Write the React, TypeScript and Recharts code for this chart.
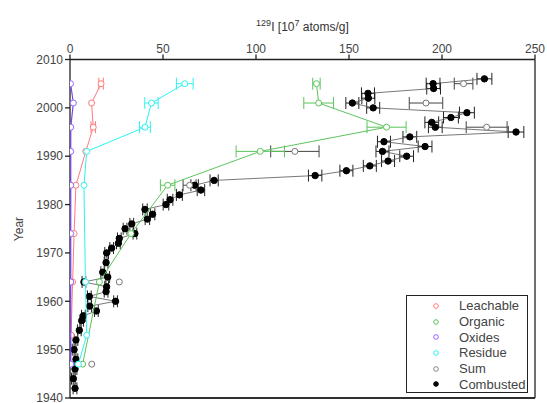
import {
  ScatterChart,
  Scatter,
  XAxis,
  YAxis,
  ErrorBar,
  Legend,
  ReferenceLine,
} from "recharts";

// 129I fractions in layered samples (x = 10^7 atoms/g, y = year)
const leachableYears = [2005, 2001, 1996, 1991, 1984, 1974, 1964, 1953];
const leachableValues = [16.7, 11.6, 12.5, 8.5, 3.2, 2.2, 1.4, 0.6];
const leachableErrors = [1.2, null, 1.2, null, null, null, null, null];

const organicYears = [2005, 2001, 1996, 1991, 1984, 1974, 1964, 1947];
const organicValues = [132.5, 133.7, 170.2, 102.3, 52.5, 32.8, 15.8, 6.8];
const organicErrors = [2, 8, 10.5, 13, 3.9, null, null, null];

const oxidesYears = [2005, 2001, 1996, 1991, 1984, 1974, 1964, 1947];
const oxidesValues = [0.3, 1.8, 0.4, 0.4, 0.4, 0.4, 0.4, 0.4];

const residueYears = [2005, 2001, 1996, 1991, 1984, 1964, 1953, 1947];
const residueValues = [61.7, 43.8, 40.3, 9, 7.5, 8.3, 9, 4.5];
const residueErrors = [4.5, 3.6, 2.9, null, null, null, null, null];

const sumYears = [2005, 2001, 1996, 1991, 1984, 1964, 1947];
const sumValues = [211.6, 191.4, 224, 120.9, 64.3, 26.5, 11.7];
const sumErrors = [5, 9, 11, 13, 3.5, null, null];

const combustedYears = [
  2006, 2005, 2004, 2003, 2002, 2001, 2000, 1999, 1998, 1997, 1996, 1995,
  1994, 1993, 1992, 1991, 1990, 1989, 1988, 1987, 1986, 1985, 1984, 1983,
  1982, 1981, 1980, 1979, 1978, 1977, 1976, 1975, 1974, 1973, 1972, 1971,
  1970, 1968, 1966, 1965, 1964, 1963, 1962, 1961, 1960, 1959, 1958, 1957,
  1956, 1954, 1952, 1950, 1948, 1946, 1944, 1942,
];
const combustedValues = [
  222.8, 195.2, 195.5, 160.2, 160.4, 151.8, 163, 213.4, 204.8, 194.5, 196.4, 239.8,
  182.7, 168.8, 190.9, 168, 181, 171, 161.2, 148.6, 131.8, 77.5, 67, 70.4,
  58.8, 53.8, 51.6, 40.3, 44.4, 41.6, 33.2, 29.6, 34.9, 26.5, 26, 22.4,
  19.7, 19.4, 17.6, 20.3, 7.5, 19.7, 19.4, 10.4, 24.5, 10.6, 14.2, 7.2,
  6.3, 5, 3.2, 2.2, 3.2, 2.7, 1.8, 2.7,
];
const combustedErrors = [
  4, 3.7, 3.7, 3.5, 3.5, 3.5, 3.5, 4, 4, 3.7, 3.7, 4.2,
  3.7, 3.5, 3.7, 3.5, 3.7, 3.5, 3.5, 3.5, 3.6, 2.2, 2, 2,
  1.6, 1.5, 1.5, 1.2, 1.2, 1.2, 1, 1, 1, 1, 1, 1,
  1, 1, 1, 1, 1, 1, 1, 1, 1, 1, 1, 1,
  1, 1, 1, 1, 1, 1, 1, 1,
];

const xTicks = [0, 50, 100, 150, 200, 250];
const yTicks = [1940, 1950, 1960, 1970, 1980, 1990, 2000, 2010];

const legendNames = ["Leachable", "Organic", "Oxides", "Residue", "Sum", "Combusted"];
const legendColors = ["#ff7b7b", "#5cc45c", "#9966ff", "#2ef2f2", "#888888", "#000000"];

const FONT = "'Liberation Sans', Arial, sans-serif";

function pts(years: number[], values: number[], errs?: (number | null)[]) {
  return years.map((y, i) => ({ x: values[i], y, err: errs ? errs[i] : null }));
}

const openDot = (color: string) => (props: any) => (
  <circle cx={props.cx} cy={props.cy} r={3} fill="#fff" stroke={color} strokeWidth={1} />
);

const filledDot = (props: any) => (
  <circle cx={props.cx} cy={props.cy} r={3.2} fill="#000" stroke="#000" />
);

function LegendBox() {
  return (
    <div
      style={{
        width: 122,
        height: 98,
        border: "1.5px solid #222",
        background: "#fff",
        fontFamily: FONT,
        fontSize: 13,
        color: "#444",
        boxSizing: "border-box",
        paddingTop: 2,
      }}
    >
      {legendNames.map((name, i) => (
        <div key={name} style={{ display: "flex", alignItems: "center", height: 15.7 }}>
          <svg width={50} height={10} style={{ flex: "none" }}>
            <circle
              cx={29}
              cy={5}
              r={2.3}
              fill={i === 5 ? "#000" : "#fff"}
              stroke={legendColors[i]}
              strokeWidth={1}
            />
          </svg>
          <span style={{ marginLeft: 2 }}>{name}</span>
        </div>
      ))}
    </div>
  );
}

export default function App() {
  const axisStroke = "#222";
  const tickStyle = { fontSize: 12, fill: "#444", fontFamily: FONT };
  return (
    <div style={{ position: "absolute", left: 0, top: 0, width: 547, height: 403, background: "#fff" }}>
      <div
        style={{
          position: "absolute",
          left: 0,
          top: 18,
          width: 605,
          textAlign: "center",
          fontFamily: FONT,
          fontSize: 12,
          color: "#333",
          zIndex: 2,
        }}
      >
        <sup style={{ fontSize: 9 }}>129</sup>I [10<sup style={{ fontSize: 9 }}>7</sup> atoms/g]
      </div>
      <ScatterChart width={547} height={403} margin={{ top: 30, right: 0, bottom: 0, left: 0 }}>
        <XAxis
          type="number"
          dataKey="x"
          orientation="top"
          domain={[0, 250]}
          ticks={xTicks}
          interval={0}
          height={29.5}
          tickSize={5}
          stroke={axisStroke}
          strokeWidth={1.3}
          tick={tickStyle}
          allowDataOverflow
        />
        <XAxis
          xAxisId="b"
          type="number"
          orientation="bottom"
          domain={[0, 250]}
          height={5}
          tick={false}
          tickLine={false}
          stroke={axisStroke}
          strokeWidth={1.3}
        />
        <YAxis
          type="number"
          dataKey="y"
          domain={[1940, 2010]}
          ticks={yTicks}
          interval={0}
          width={70}
          tickSize={5}
          stroke={axisStroke}
          strokeWidth={1.3}
          tick={tickStyle}
          allowDataOverflow
          label={{
            content: () => (
              <text
                x={19}
                y={229}
                transform="rotate(-90 19 229)"
                textAnchor="middle"
                dominantBaseline="central"
                fontSize={12}
                fill="#444"
                fontFamily={FONT}
              >
                Year
              </text>
            ),
          }}
        />
        <YAxis
          yAxisId="r"
          orientation="right"
          type="number"
          domain={[1940, 2010]}
          ticks={yTicks}
          interval={0}
          width={12}
          tickSize={5}
          tick={false}
          stroke={axisStroke}
          strokeWidth={1.3}
        />
        <ReferenceLine y={1940} stroke={axisStroke} strokeWidth={1.3} />
        <Legend
          layout="vertical"
          align="center"
          verticalAlign="middle"
          wrapperStyle={{ left: 406, top: 295, width: 122 }}
          content={() => <LegendBox />}
        />
        <Scatter
          name="Combusted"
          data={pts(combustedYears, combustedValues, combustedErrors)}
          line={{ stroke: "#555", strokeWidth: 0.8 }}
          shape={filledDot}
          isAnimationActive={false}
        >
          <ErrorBar dataKey="err" direction="x" width={6} stroke="#222" strokeWidth={1} />
        </Scatter>
        <Scatter
          name="Sum"
          data={pts(sumYears, sumValues, sumErrors)}
          shape={openDot("#777")}
          isAnimationActive={false}
        >
          <ErrorBar dataKey="err" direction="x" width={6} stroke="#444" strokeWidth={1} />
        </Scatter>
        <Scatter
          name="Organic"
          data={pts(organicYears, organicValues, organicErrors)}
          line={{ stroke: "#5cc45c", strokeWidth: 1 }}
          shape={openDot("#5cc45c")}
          isAnimationActive={false}
        >
          <ErrorBar dataKey="err" direction="x" width={6} stroke="#5cc45c" strokeWidth={1} />
        </Scatter>
        <Scatter
          name="Leachable"
          data={pts(leachableYears, leachableValues, leachableErrors)}
          line={{ stroke: "#ff7b7b", strokeWidth: 1 }}
          shape={openDot("#ff7b7b")}
          isAnimationActive={false}
        >
          <ErrorBar dataKey="err" direction="x" width={6} stroke="#ff7b7b" strokeWidth={1} />
        </Scatter>
        <Scatter
          name="Residue"
          data={pts(residueYears, residueValues, residueErrors)}
          line={{ stroke: "#2ef2f2", strokeWidth: 1 }}
          shape={openDot("#2ef2f2")}
          isAnimationActive={false}
        >
          <ErrorBar dataKey="err" direction="x" width={6} stroke="#2ef2f2" strokeWidth={1} />
        </Scatter>
        <Scatter
          name="Oxides"
          data={pts(oxidesYears, oxidesValues)}
          line={{ stroke: "#7744ee", strokeWidth: 1.2 }}
          shape={openDot("#9966ff")}
          isAnimationActive={false}
        />
      </ScatterChart>
    </div>
  );
}
